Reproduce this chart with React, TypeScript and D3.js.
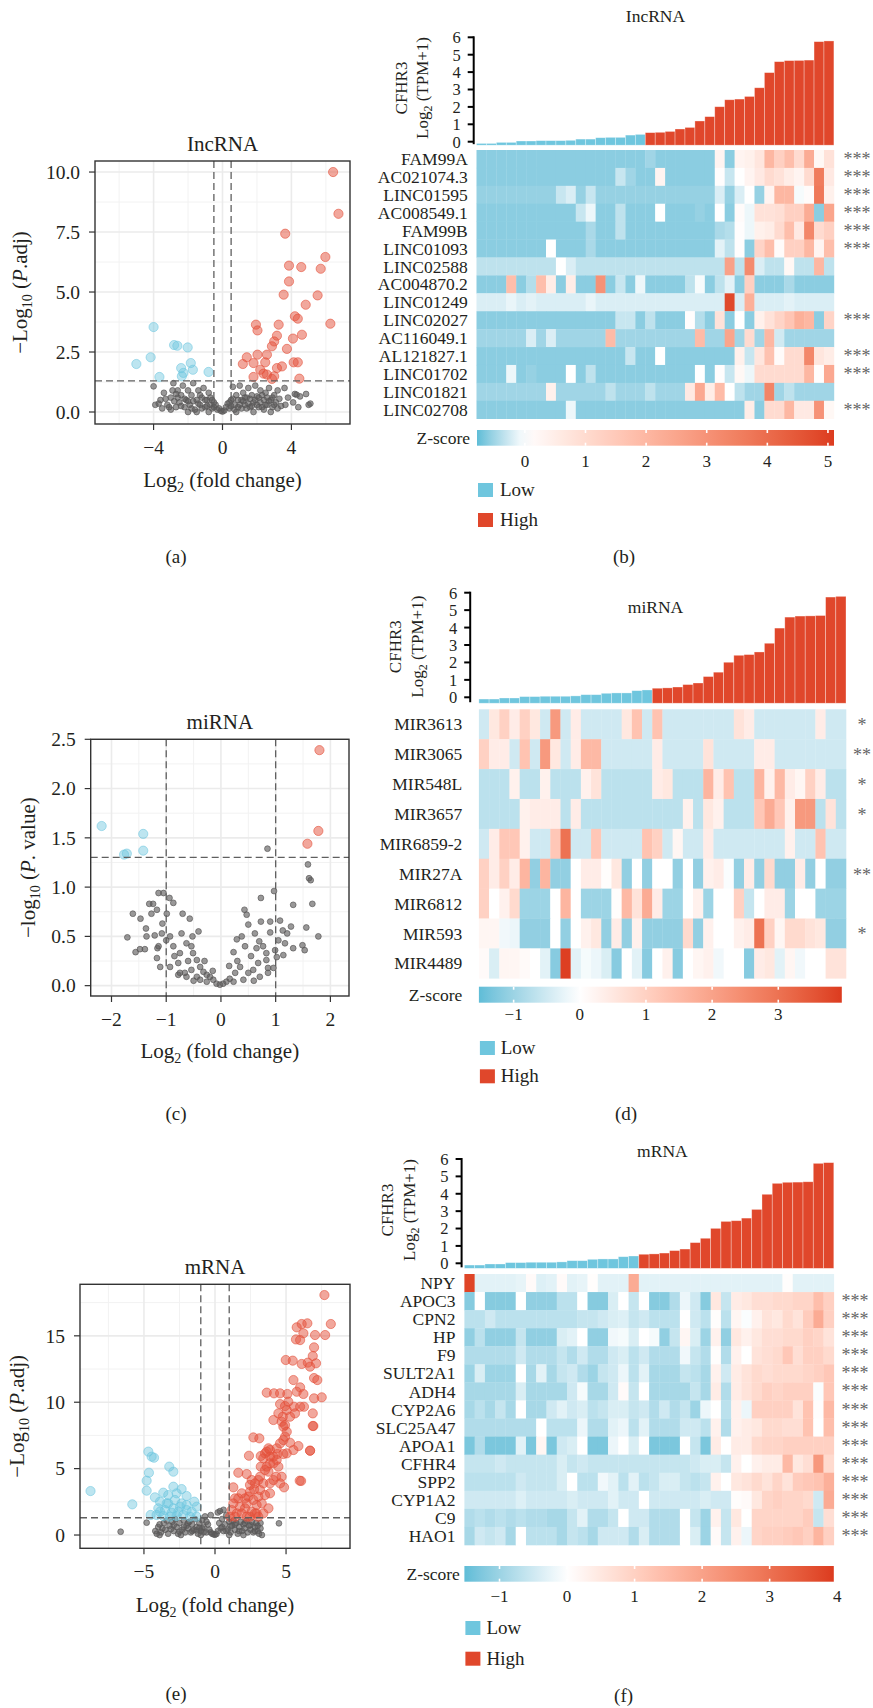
import React from 'react'
import * as d3 from 'd3'

const SERIF = '"Liberation Serif", "Times New Roman", Times, serif'
const INK = '#231f20'
const PT_BLUE = '#6cc5de'
const PT_RED = '#e4503a'
const PT_GREY = '#5a5858'
const BAR_BLUE = '#6fc6de'
const BAR_RED = '#e0472b'
const HEAT_BLUE = '#5fbdd7'
const HEAT_RED = '#dc3b1f'

// ---------------- volcano data: [log2 fold change, -log10 p] ----------------
const lncDown = [[-4.0, 3.54], [-5.0, 2.0], [-4.17, 2.28], [-3.66, 1.46], [-2.81, 2.79], [-2.62, 2.76], [-2.02, 2.69],
  [-2.4, 1.83], [-1.84, 2.04], [-1.72, 1.76], [-2.27, 1.63], [-0.81, 1.67], [-2.36, 1.49]]
const lncUp = [[3.64, 7.43], [3.86, 6.1], [4.57, 6.04], [3.86, 5.44], [3.55, 4.89], [4.83, 4.47], [5.7, 5.97], [5.52, 4.86],
  [4.2, 3.99], [4.37, 3.89], [3.26, 3.64], [1.94, 3.64], [2.03, 3.4], [4.61, 3.22], [4.09, 3.06], [3.16, 3.18], [3.0, 2.94],
  [2.87, 2.74], [3.74, 2.63], [2.58, 2.39], [2.03, 2.39], [1.41, 2.28], [1.18, 2.0], [1.8, 2.04], [2.48, 2.07], [2.19, 1.76],
  [3.16, 1.83], [3.45, 1.9], [4.13, 2.07], [4.37, 2.07], [2.58, 1.56], [2.38, 1.6], [3.0, 1.49], [1.8, 1.46], [4.46, 1.39],
  [2.87, 1.38], [6.42, 10.0], [6.73, 8.26], [5.97, 6.46], [6.26, 3.68]]
const lncNs = [[-4.0, 1.07], [-3.9, 0.3], [-3.7, 0.35], [-3.6, 0.5], [-3.4, 0.8], [-3.2, 0.3], [-3.0, 0.6], [-3.0, 0.1],
  [-2.9, 0.9], [-2.85, 1.2], [-2.7, 0.2], [-2.6, 0.9], [-2.5, 0.4], [-2.4, 0.7], [-2.3, 1.1], [-2.2, 0.2], [-2.1, 0.5],
  [-2.0, 0.9], [-2.0, 0.0], [-1.9, 0.3], [-1.8, 0.7], [-1.7, 1.2], [-1.6, 0.1], [-1.5, 0.5], [-1.5, 0.0], [-1.4, 0.9],
  [-1.3, 0.3], [-1.2, 0.6], [-1.1, 1.0], [-1.0, 0.2], [-0.9, 0.5], [-0.8, 0.8], [-0.8, 0.0], [-0.7, 0.3], [-0.6, 0.5],
  [-0.5, 0.2], [-0.4, 0.3], [-0.3, 0.1], [-0.2, 0.15], [-0.1, 0.05], [0, 0.02], [0.1, 0.06], [0.2, 0.2], [0.3, 0.35],
  [0.4, 0.15], [0.5, 0.5], [0.6, 1.05], [0.7, 0.3], [0.8, 0.7], [0.8, 0.0], [0.9, 0.2], [1.0, 1.1], [1.1, 0.5], [1.2, 0.8],
  [1.3, 0.3], [1.4, 0.6], [1.5, 1.0], [1.6, 0.2], [1.7, 0.7], [1.8, 0.4], [1.8, 0.0], [1.9, 1.1], [2.0, 0.3], [2.1, 0.6],
  [2.2, 0.9], [2.3, 0.2], [2.4, 0.5], [2.5, 0.8], [2.6, 0.3], [2.7, 1.0], [2.8, 0.5], [2.8, 0.0], [2.9, 0.2], [3.0, 0.7],
  [3.1, 0.4], [3.2, 0.9], [3.3, 0.55], [3.4, 0.25], [3.6, 1.0], [3.65, 0.3], [3.8, 0.6], [4.1, 0.4], [4.2, 0.75], [4.3, 0.72],
  [4.4, 0.2], [4.5, 0.65], [4.85, 0.75], [5.0, 0.3], [5.1, 0.35], [-2.8, 0.45], [-2.6, 0.6], [-2.4, 0.25], [-2.2, 0.55],
  [-2.0, 0.45], [-1.8, 0.15], [-1.7, 0.45], [-1.4, 0.35], [-1.3, 0.7], [-1.2, 0.15], [-1.0, 0.5], [-0.9, 0.25], [-0.7, 0.6],
  [-0.6, 0.15], [-0.5, 0.4], [0.4, 0.4], [0.5, 0.25], [0.6, 0.55], [0.7, 0.1], [0.9, 0.5], [1.0, 0.3], [1.1, 0.15],
  [1.2, 0.45], [1.3, 0.6], [1.4, 0.15], [1.5, 0.35], [1.6, 0.55], [1.7, 0.25], [1.9, 0.5], [2.0, 0.65], [2.1, 0.2],
  [2.2, 0.4], [2.3, 0.7], [2.4, 0.1], [2.5, 0.3], [2.6, 0.6], [2.7, 0.45], [2.9, 0.6], [3.0, 0.3], [3.2, 0.15], [-3.3, 0.55],
  [-3.1, 0.2], [-2.7, 0.75], [-3.5, 0.15]]

const mirDown = [[-2.18, 1.62], [-1.77, 1.33], [-1.72, 1.34], [-1.42, 1.54], [-1.42, 1.37]]
const mirUp = [[1.8, 2.39], [1.78, 1.57], [1.58, 1.44]]
const mirNs = [[0.85, 1.39], [1.59, 1.23], [1.61, 1.09], [1.64, 1.07], [0.97, 0.96], [0.73, 0.89], [1.32, 0.82], [1.67, 0.83],
  [0.43, 0.77], [0.47, 0.72], [0.5, 0.62], [0.73, 0.65], [0.9, 0.65], [1.08, 0.66], [1.13, 0.56], [1.28, 0.6], [1.56, 0.59],
  [1.21, 0.53], [1.17, 0.43], [1.05, 0.46], [0.9, 0.54], [0.62, 0.53], [0.38, 0.5], [0.29, 0.47], [0.23, 0.34], [0.44, 0.4],
  [0.65, 0.38], [0.77, 0.4], [0.83, 0.33], [0.99, 0.36], [1.02, 0.29], [1.14, 0.31], [1.32, 0.38], [1.49, 0.41], [1.53, 0.36],
  [1.78, 0.5], [0.83, 0.26], [0.86, 0.18], [0.96, 0.18], [0.68, 0.23], [0.59, 0.16], [0.5, 0.13], [0.35, 0.19], [0.26, 0.13],
  [0.16, 0.07], [0.1, 0.04], [0.04, 0.02], [-0.02, 0.01], [-0.08, 0.02], [-0.14, 0.06], [-0.2, 0.09], [-0.26, 0.11],
  [-0.32, 0.14], [-0.38, 0.19], [-0.44, 0.26], [-0.51, 0.33], [-0.54, 0.4], [-0.63, 0.43], [-0.72, 0.53], [-0.7, 0.73],
  [-0.57, 0.68], [-0.41, 0.55], [-0.52, 0.5], [-0.75, 0.33], [-0.87, 0.4], [-0.93, 0.5], [-0.87, 0.84], [-0.94, 0.89],
  [-1.05, 0.94], [-1.14, 0.94], [-0.99, 0.73], [-1.07, 0.63], [-1.08, 0.53], [-1.0, 0.46], [-1.14, 0.4], [-1.17, 0.28],
  [-1.11, 0.19], [-0.93, 0.19], [-0.78, 0.23], [-0.78, 0.11], [-0.66, 0.13], [-0.54, 0.16], [-0.44, 0.09], [-1.24, 0.83],
  [-1.31, 0.83], [-1.17, 0.77], [-1.27, 0.73], [-1.36, 0.5], [-1.61, 0.73], [-1.47, 0.68], [-1.37, 0.58], [-1.71, 0.49],
  [-1.56, 0.34], [-1.48, 0.37], [-1.39, 0.37], [-1.21, 0.51], [-1.16, 0.38], [0.86, 0.13], [0.71, 0.09], [0.41, 0.06],
  [0.23, 0.04], [-0.26, 0.04], [-0.38, 0.06], [-0.63, 0.09], [-0.75, 0.13], [-0.6, 0.25], [-0.3, 0.25], [0.3, 0.25],
  [0.55, 0.3], [0.7, 0.45], [-0.85, 0.3], [0.15, 0.2], [-0.15, 0.15], [0.6, 0.05], [-0.5, 0.05]]

const mrnaDown = [[-8.76, 3.31], [-5.82, 2.31], [-4.69, 6.28], [-4.46, 5.9], [-4.29, 5.82], [-4.65, 4.69], [-4.81, 4.09],
  [-4.81, 3.34], [-4.23, 2.84], [-4.53, 1.51], [-3.22, 5.15], [-2.93, 4.77], [-2.93, 3.64], [-2.35, 3.46], [-3.64, 3.19],
  [-3.29, 3.01], [-2.7, 3.14], [-3.87, 2.51], [-3.4, 2.38], [-2.0, 2.94], [-1.46, 2.51], [-1.29, 2.13], [-3.99, 2.01],
  [-3.52, 1.88], [-2.93, 2.01], [-2.46, 2.13], [-2.0, 1.88], [-1.64, 1.76], [-4.11, 1.51], [-3.64, 1.43], [-3.17, 1.38],
  [-2.7, 1.43], [-2.23, 1.51], [-1.76, 1.38], [-1.29, 1.38], [-3.29, 2.38], [-2.82, 2.64], [-2.35, 2.38], [-2.0, 2.26],
  [-3.87, 1.76], [-2.58, 1.76], [-3.05, 1.68]]
const mrnaUp = [[7.7, 18.07], [8.15, 15.89], [7.75, 15.06], [5.75, 15.64], [6.1, 15.89], [6.5, 15.94], [6.22, 15.19],
  [5.7, 14.73], [5.99, 14.68], [7.04, 15.06], [6.97, 14.13], [6.88, 13.48], [7.11, 12.93], [6.53, 12.98], [6.69, 12.68],
  [4.98, 13.18], [5.47, 13.13], [6.1, 12.88], [6.97, 11.82], [7.2, 11.67], [5.52, 11.67], [5.99, 11.12], [3.64, 10.72],
  [4.15, 10.67], [4.58, 10.67], [5.09, 10.62], [5.75, 10.79], [6.22, 10.62], [6.97, 10.29], [7.51, 10.37], [4.58, 9.86],
  [4.93, 9.71], [5.56, 9.66], [5.99, 9.66], [6.26, 9.66], [4.46, 9.16], [5.63, 9.16], [6.88, 9.16], [4.11, 8.66], [4.69, 8.53],
  [4.93, 8.28], [4.81, 8.16], [6.92, 8.21], [4.93, 7.4], [2.7, 7.35], [3.12, 7.28], [3.76, 6.53], [3.64, 6.28], [4.58, 6.9],
  [5.28, 6.95], [5.87, 6.7], [6.69, 6.35], [2.39, 5.97], [3.22, 5.95], [3.4, 5.77], [3.87, 5.9], [4.39, 6.1], [4.81, 6.1],
  [3.22, 5.15], [3.64, 5.15], [4.11, 5.4], [4.46, 5.15], [3.76, 4.77], [3.87, 3.89], [4.3, 4.39], [4.69, 4.39], [4.86, 3.59],
  [5.96, 4.09], [1.64, 4.69], [2.23, 4.59], [2.58, 4.14], [3.05, 4.14], [2.46, 3.77], [2.75, 3.44], [3.17, 3.39], [3.52, 3.01],
  [3.87, 3.14], [1.29, 3.59], [2.11, 2.76], [1.41, 2.76], [1.76, 2.13], [2.23, 2.38], [2.93, 2.26], [3.76, 2.01], [1.17, 1.88],
  [1.53, 1.63], [2.58, 1.76], [2.93, 1.63], [1.06, 1.38], [1.41, 1.38], [2.46, 1.38], [3.05, 1.38], [1.88, 3.14], [2.35, 2.89],
  [2.7, 2.64], [3.29, 2.38], [2.11, 2.01], [2.46, 3.26], [2.82, 3.89], [3.17, 4.39], [3.52, 4.89], [3.87, 5.4], [4.11, 5.9],
  [3.52, 6.15], [3.87, 6.4], [4.34, 6.53], [4.81, 7.15], [5.05, 7.78], [4.77, 8.91], [5.28, 8.91], [5.05, 9.41], [5.16, 10.04],
  [1.64, 2.76], [1.29, 2.38], [1.88, 1.63], [2.82, 1.63], [2.23, 1.38], [3.4, 1.63], [3.05, 2.89], [3.4, 3.89], [4.11, 4.14],
  [4.58, 3.89], [4.34, 5.65], [5.05, 6.15], [5.52, 6.4], [6.06, 4.07], [6.69, 6.35], [6.88, 8.21]]
const mrnaNs = [[-6.64, 0.25], [-4.81, 0.93], [4.5, 0.88], [-4.2, 0.3], [-4.0, 0.6], [-3.9, 0.0], [-3.8, 0.2], [-3.6, 0.9],
  [-3.5, 0.4], [-3.4, 1.1], [-3.3, 0.1], [-3.2, 0.7], [-3.0, 1.0], [-2.9, 0.3], [-2.8, 1.2], [-2.7, 0.6], [-2.6, 0.1],
  [-2.5, 0.9], [-2.4, 0.0], [-2.3, 0.4], [-2.2, 1.1], [-2.1, 0.2], [-2.0, 0.7], [-1.9, 0.5], [-1.8, 1.0], [-1.7, 0.2],
  [-1.6, 0.8], [-1.5, 0.4], [-1.4, 1.2], [-1.3, 0.6], [-1.2, 0.1], [-1.1, 0.9], [-1.0, 0.3], [-1.0, 0.0], [-0.9, 1.1],
  [-0.9, 0.5], [-0.8, 0.6], [-0.7, 1.4], [-0.6, 0.2], [-0.6, 1.0], [-0.5, 0.8], [-0.4, 0.4], [-0.3, 0.2], [-0.3, 1.5],
  [-0.2, 0.1], [-0.1, 0.05], [0, 0.02], [0.1, 0.08], [0.2, 0.3], [0.2, 1.7], [0.3, 0.9], [0.35, 1.8], [0.4, 0.5], [0.5, 1.2],
  [0.6, 1.9], [0.6, 0.3], [0.7, 0.8], [0.8, 1.5], [0.9, 0.4], [1.0, 1.0], [1.0, 0.0], [1.1, 0.2], [1.2, 0.7], [1.3, 1.1],
  [1.4, 0.4], [1.5, 0.9], [1.6, 0.1], [1.7, 0.6], [1.8, 1.0], [1.9, 0.3], [2.0, 0.8], [2.0, 0.0], [2.1, 0.5], [2.2, 1.1],
  [2.3, 0.2], [2.4, 0.7], [2.5, 0.4], [2.6, 1.0], [2.7, 0.2], [2.8, 0.6], [2.9, 0.9], [3.0, 0.3], [3.0, 0.7], [3.1, 0.1],
  [3.2, 0.5], [3.3, 0.0], [-3.7, 0.5], [-3.1, 0.45], [-2.9, 0.75], [-2.5, 0.25], [-2.2, 0.6], [-1.9, 0.9], [-1.6, 0.3],
  [-1.3, 0.35], [-1.1, 0.55], [-0.8, 0.2], [0.5, 0.6], [0.8, 0.3], [1.1, 0.7], [1.4, 0.8], [1.7, 0.3], [2.1, 0.9], [2.5, 0.75],
  [2.8, 0.3], [3.2, 0.9], [-4.1, 0.1], [-3.9, 0.8]]

// ---------------- CFHR3 expression, log2(TPM+1), 36 samples sorted ----------------
const cfhr3Expr = [-0.1, -0.1, -0.04, -0.04, 0.04, 0.04, 0.06, 0.06, 0.06, 0.08, 0.15, 0.15, 0.23, 0.25, 0.25, 0.38, 0.42,
  0.52, 0.54, 0.59, 0.73, 0.82, 1.19, 1.44, 2.01, 2.41, 2.45, 2.6, 3.1, 3.97, 4.6, 4.66, 4.67, 4.69, 5.75, 5.79]
const cfhr3Group = ['Low', 'Low', 'Low', 'Low', 'Low', 'Low', 'Low', 'Low', 'Low', 'Low', 'Low', 'Low', 'Low', 'Low', 'Low',
  'Low', 'Low', 'High', 'High', 'High', 'High', 'High', 'High', 'High', 'High', 'High', 'High', 'High', 'High', 'High',
  'High', 'High', 'High', 'High', 'High', 'High']

// ---------------- heatmap z-scores ----------------
const lncGenes = ['FAM99A', 'AC021074.3', 'LINC01595', 'AC008549.1', 'FAM99B', 'LINC01093', 'LINC02588', 'AC004870.2',
  'LINC01249', 'LINC02027', 'AC116049.1', 'AL121827.1', 'LINC01702', 'LINC01821', 'LINC02708']
const lncStars = ['***', '***', '***', '***', '***', '***', '', '', '', '***', '', '***', '***', '', '***']
const lncZ = [
  [-0.6, -0.6, -0.6, -0.6, -0.6, -0.6, -0.6, -0.6, -0.6, -0.6, -0.6, -0.6,
    -0.6, -0.6, -0.6, -0.6, -0.6, -0.5, -0.6, -0.6, -0.6, -0.6, -0.6, -0.6,
    0.3, -0.6, 0.3, 0.4, 0.7, 2.0, 1.3, 1.8, 1.0, 2.3, 0.2, 0.8],
  [-0.6, -0.6, -0.6, -0.6, -0.6, -0.6, -0.6, -0.6, -0.6, -0.6, -0.6, -0.6,
    -0.6, -0.6, -0.3, -0.5, -0.6, -0.6, 0.3, -0.6, -0.6, -0.6, -0.6, -0.6,
    0.05, -0.3, 0, 0.3, 0.6, 1.0, 0.8, 0.5, 0.3, 1.0, 3.6, 0.6],
  [-0.55, -0.55, -0.55, -0.55, -0.55, -0.55, -0.55, -0.55, -0.3, -0.2, -0.55, -0.3,
    -0.55, -0.55, -0.55, -0.55, -0.55, -0.55, -0.55, -0.55, -0.55, -0.55, -0.55, -0.55,
    -0.2, -0.55, -0.2, 0, -0.55, 0.3, 2.0, 2.0, -0.05, 0.1, 3.7, 0.4],
  [-0.6, -0.6, -0.6, -0.6, -0.6, -0.6, -0.6, -0.6, -0.6, -0.6, -0.3, -0.1,
    -0.6, -0.6, -0.35, -0.6, -0.6, -0.6, 0, -0.6, -0.6, -0.6, -0.55, -0.6,
    0, -0.6, 0.1, -0.1, 0.8, 0.8, 0.9, 1.3, 1.3, 2.3, -0.6, 2.5],
  [-0.6, -0.6, -0.6, -0.6, -0.6, -0.6, -0.6, -0.6, -0.6, -0.6, -0.6, -0.45,
    -0.6, -0.6, -0.35, -0.6, -0.6, -0.6, -0.6, -0.6, -0.6, -0.6, -0.6, -0.6,
    -0.45, -0.4, 0.05, -0.1, 0.4, 0.5, 1.0, 1.8, 0.6, 3.3, 1.0, 1.3],
  [-0.6, -0.6, -0.6, -0.6, -0.6, -0.6, -0.6, 0, -0.6, -0.6, -0.6, -0.45,
    -0.6, -0.6, -0.6, -0.6, -0.6, -0.6, -0.6, -0.6, -0.6, -0.6, -0.6, -0.6,
    -0.15, -0.35, 0.05, -0.6, 1.2, 1.8, 0.1, 1.3, 1.3, 2.0, 0.3, 1.8],
  [-0.35, -0.35, -0.35, -0.35, -0.35, -0.35, -0.35, -0.35, 0, -0.2, -0.35, -0.35,
    -0.35, -0.35, -0.35, -0.35, -0.35, -0.35, -0.35, -0.35, -0.35, -0.35, -0.35, -0.35,
    -0.35, 2.6, -0.35, 3.2, -0.2, -0.35, -0.35, 0.2, -0.35, -0.35, 2.0, -0.35],
  [-0.6, -0.6, -0.6, 1.8, -0.6, -0.4, 1.8, 0.5, -0.6, 0.5, -0.6, -0.6,
    3.0, -0.6, -0.3, -0.6, -0.1, -0.6, -0.6, -0.6, -0.6, -0.35, -0.05, -0.6,
    -0.35, -0.15, -0.6, 1.3, -0.6, -0.6, -0.6, -0.45, -0.6, -0.6, -0.6, -0.6],
  [-0.2, -0.2, -0.2, -0.12, -0.2, -0.15, -0.2, -0.2, -0.2, -0.2, -0.2, -0.12,
    -0.2, -0.2, -0.2, -0.2, -0.2, -0.2, -0.2, -0.2, -0.2, -0.2, -0.2, -0.2,
    -0.2, 4.8, -0.2, 2.2, -0.2, -0.2, -0.2, -0.15, -0.2, -0.2, -0.2, -0.2],
  [-0.6, -0.6, -0.6, -0.6, -0.6, -0.6, -0.6, -0.6, -0.6, -0.6, -0.6, -0.6,
    -0.6, -0.6, -0.3, -0.3, -0.6, -0.35, -0.6, -0.6, -0.6, 0.05, -0.4, -0.6,
    0.8, -0.6, 0, -0.6, 0.4, 0.8, 1.2, 1.6, 2.2, 2.0, -0.6, 1.2],
  [-0.5, -0.5, -0.5, -0.5, -0.5, -0.2, -0.5, -0.2, -0.5, -0.5, -0.5, -0.5,
    -0.5, 1.9, -0.5, -0.5, -0.5, -0.5, -0.5, -0.5, -0.5, -0.5, 1.9, -0.5,
    -0.5, 2.5, -0.5, 1.0, -0.5, 2.0, -0.25, -0.5, -0.5, -0.5, -0.5, -0.5],
  [-0.6, -0.6, -0.6, -0.6, -0.6, -0.6, -0.6, -0.6, -0.6, -0.6, -0.6, -0.6,
    -0.6, -0.6, -0.6, -0.3, -0.6, -0.6, 0, -0.6, -0.6, -0.6, -0.6, -0.6,
    -0.6, -0.6, 0.4, -0.3, 0.7, 1.7, 0.1, 1.0, 1.0, 3.3, 0.7, 0.5],
  [-0.6, -0.6, -0.6, -0.1, -0.6, -0.55, -0.6, -0.6, -0.6, 0, -0.6, -0.35,
    -0.6, -0.6, -0.6, -0.6, -0.6, -0.6, -0.6, -0.6, -0.6, -0.6, 0, -0.6,
    0.05, -0.3, 0.2, -0.1, 1.0, 1.0, 1.0, 1.0, 1.0, 2.0, 0.05, 2.4],
  [-0.5, -0.5, -0.5, -0.5, -0.5, -0.5, -0.5, 0.4, -0.5, -0.5, -0.5, -0.5,
    -0.5, -0.35, -0.5, -0.5, -0.5, -0.35, -0.5, -0.5, -0.5, 0.6, 2.4, 0.5,
    1.9, 0, -0.35, -0.5, -0.5, 3.4, -0.5, -0.35, -0.5, -0.5, -0.5, -0.5],
  [-0.6, -0.6, -0.6, -0.6, -0.6, -0.6, -0.6, -0.6, -0.6, -0.1, -0.6, -0.6,
    -0.6, -0.6, -0.6, -0.6, -0.6, -0.6, -0.6, -0.6, -0.6, -0.6, -0.6, -0.6,
    -0.6, -0.6, -0.6, 0.5, -0.6, 1.0, 1.0, 2.0, 0.6, 0.6, 3.0, 0.2],
]

const mirGenes = ['MIR3613', 'MIR3065', 'MIR548L', 'MIR3657', 'MIR6859-2', 'MIR27A', 'MIR6812', 'MIR593', 'MIR4489']
const mirStars = ['*', '**', '*', '*', '', '**', '', '*', '']
const mirZ = [
  [-0.5, 0.5, 1.0, 0.4, 1.0, 0.5, -0.5, 2.2, -0.5, 0.4, -0.5, -0.5,
    -0.5, -0.5, 0.5, 1.3, -0.5, 1.3, -0.5, -0.5, -0.5, -0.5, -0.5, -0.5,
    -0.5, 0.6, 0.4, -0.5, -0.5, -0.5, -0.5, -0.5, -0.5, 0.4, -0.5, -0.5],
  [1.0, 0.4, 0.4, -0.5, 1.3, -0.5, 2.2, 0.5, -0.5, 0.4, 1.5, 1.5,
    -0.5, -0.5, -0.5, -0.5, -0.5, 0.4, -0.5, -0.5, -0.5, -0.5, 0.6, -0.5,
    -0.5, -0.5, -0.5, 0.4, 0.4, -0.5, -0.5, -0.5, -0.5, -0.5, -0.5, -0.5],
  [-0.7, -0.7, -0.7, 0.3, -0.7, -0.7, 0.3, -0.7, -0.7, -0.7, 0.3, 0.6,
    -0.7, -0.7, -0.7, -0.7, -0.7, 0.4, 0.5, -0.7, -0.7, -0.7, 1.6, 0.4,
    1.3, -0.7, -0.7, 1.6, 0.3, 1.5, 0.4, 0.2, 1.0, 0.4, -0.7, -0.7],
  [-0.7, -0.7, -0.7, -0.7, 0.3, 0.4, 0.4, 0.4, -0.7, 0.4, -0.7, -0.7,
    -0.7, -0.7, -0.7, -0.7, -0.7, -0.7, -0.7, -0.7, 0.3, -0.7, 0.5, 0.3,
    -0.7, -0.7, -0.7, 1.2, 1.8, 1.2, 0.3, 2.2, 2.2, -0.7, 0.6, -0.7],
  [-0.5, 0.4, 1.2, 1.2, 0.3, -0.5, -0.5, 1.2, 3.0, -0.5, -0.5, 1.2,
    -0.5, -0.5, -0.5, -0.5, 1.3, 1.0, -0.5, 0.2, -0.5, -0.5, 0.4, -0.5,
    -0.5, -0.5, -0.5, -0.5, -0.5, -0.5, 0.3, -0.5, -0.5, 1.3, -0.5, -0.5],
  [1.0, 0.4, 1.0, 0.4, 1.6, -1.1, 1.6, -1.1, -1.1, 0, 0.4, 0.4,
    0.05, 0.5, -1.1, 0, -1.1, 0, 0, -1.1, 0, -1.1, 0.3, 0.4,
    -0.05, -1.1, 0.4, -1.1, 0.8, -1.1, -1.1, 0.4, -1.1, 0, -1.1, -1.1],
  [1.0, 0, 0.3, 0.8, -1.0, -1.0, -1.0, 0, 1.6, 0, -1.0, -1.0,
    -1.0, 0.05, 1.5, 0.6, 1.8, 0.4, -1.0, -1.0, 0, 0.3, -1.0, 0,
    0, 1.0, -0.6, 0, 0.4, 0.4, -1.0, 0, 0, -1.0, -1.0, -1.0],
  [0.2, 0.2, -0.15, -0.2, -1.1, -1.1, -1.1, 0, -1.1, 0, 0.3, 0.5,
    -1.1, 0.4, -1.1, 0.3, -1.1, -1.1, -1.1, -1.1, 0.8, -1.1, 0.3, 0,
    0, 0.3, 0.4, 3.0, 1.0, 0.2, 0.8, 0.8, 0.6, 0.5, -1.1, -1.1],
  [0.1, -0.4, 0.2, 0.2, 0.1, 0, -0.3, -1.2, 3.9, -0.3, -0.1, -0.2,
    -0.4, -1.2, 0, -0.3, -1.2, 0, 0.3, -1.2, 0, 0.2, 0.3, -0.15,
    0, 0, -1.2, 0.4, 0.5, -0.3, 0.2, -0.15, 0, 0, 0.6, 0.6],
]

const mrnaGenes = ['NPY', 'APOC3', 'CPN2', 'HP', 'F9', 'SULT2A1', 'ADH4', 'CYP2A6', 'SLC25A47', 'APOA1', 'CFHR4', 'SPP2',
  'CYP1A2', 'C9', 'HAO1']
const mrnaStars = ['', '***', '***', '***', '***', '***', '***', '***', '***', '***', '***', '***', '***', '***', '***']
const mrnaZ = [
  [3.8, -0.3, -0.3, -0.3, -0.3, -0.25, 0.1, -0.35, -0.3, 0.1, -0.3, -0.25,
    0.05, -0.3, -0.3, -0.3, 1.8, -0.3, -0.3, -0.3, -0.3, -0.3, -0.3, -0.3,
    -0.3, -0.3, -0.3, -0.3, -0.3, -0.3, -0.3, 0.05, -0.3, -0.3, -0.3, -0.3],
  [-1.2, 0, -1.2, -1.2, -1.2, 0, -1.1, -1.1, -1.1, -0.7, -0.7, 0,
    -1.2, -1.2, -0.4, 0, -0.6, 0, -1.2, -1.2, -0.8, -0.2, -0.5, -1.2,
    0.5, -0.6, 0.4, 0.5, 0.7, 0.7, 0.8, 0.8, 0.9, 0.9, 1.4, 1.0],
  [-0.7, -0.7, -0.5, -0.7, -0.7, -0.7, -0.7, -0.7, -0.7, -0.7, -0.7, -0.6,
    -0.6, -0.5, -0.4, -0.35, -0.6, -0.5, -0.7, -0.7, -0.7, 0, -0.5, -0.7,
    0.05, -0.7, 0.2, -0.05, 0.3, 0.6, 0.5, 0.8, 0.6, 1.1, 1.8, 1.0],
  [-1.1, -0.7, -1.1, -1.1, -1.1, -0.6, -1.1, -1.1, -1.1, -0.4, -0.3, 0,
    -1.1, -1.1, -0.15, -0.1, -0.4, 0, -0.1, -1.1, -0.6, 0.2, -0.4, -1.0,
    0.3, -1.1, 0.5, 0.3, 0.5, 0.7, 0.7, 0.8, 0.8, 1.0, 0.9, 0.6],
  [-0.8, -0.8, -0.8, -0.8, -0.8, -0.5, -0.8, -0.8, -0.8, -0.6, -0.8, -0.5,
    -0.8, -0.8, -0.5, -0.4, -0.7, -0.5, -0.8, -0.8, -0.8, -0.15, -0.6, -0.8,
    0.05, -0.8, 0.3, 0, 0.6, 0.7, 0.8, 1.2, 0.7, 1.0, 1.0, 0.8],
  [-1.0, -0.4, -1.0, -1.0, -1.0, 0, -0.9, -0.3, -0.9, -0.6, -0.5, -0.8,
    -1.0, -0.6, -0.5, -0.2, -0.7, -0.3, -0.9, -0.9, -0.9, -0.6, -0.7, -0.9,
    0.3, -0.5, 0.4, 0.6, 0.8, 0.7, 0.8, 0.8, 0.8, 0.9, 1.0, 1.2],
  [-0.9, -0.9, -0.9, -0.9, -0.9, -0.4, -0.9, -0.9, -0.9, -0.9, -0.5, -0.1,
    -0.9, -0.9, -0.5, 0.1, -0.6, 0, -0.9, -0.9, -0.9, -0.9, -0.6, -0.9,
    0.4, -0.8, 0.4, 0.6, 0.8, 1.0, 0.9, 1.0, 1.0, 1.0, -0.05, 1.2],
  [-0.9, -0.7, -0.9, -0.6, -0.9, 0, -0.9, -0.9, -0.5, -0.3, -0.5, -0.4,
    -0.7, -0.6, -0.4, -0.4, -0.6, -0.5, -0.8, -0.5, -0.8, -0.6, -1.0, -0.2,
    0, -0.7, 0.3, -0.2, 1.0, 1.0, 1.0, 1.0, 0.6, 1.3, 0.05, 1.5],
  [-0.8, -0.8, -0.8, -0.8, -0.8, -0.8, -0.8, 0, -0.7, -0.7, -0.7, -0.2,
    -0.8, -0.8, -0.3, -0.2, -0.7, -0.3, -0.8, -0.8, -0.8, -0.5, -0.5, -0.7,
    0.3, -0.8, 0.3, 0.4, 0.5, 0.8, 0.8, 0.7, 0.7, 1.3, 0, 1.4],
  [-1.3, -0.8, -1.3, -1.3, -1.3, -0.3, -1.3, 0.2, -1.3, -0.5, -0.4, 0,
    -1.3, -1.3, -0.2, 0, -0.4, 0, -1.3, -1.3, -1.3, 0, -0.6, -1.3,
    0.4, 0, 0.4, 0.4, 0.8, 0.9, 0.9, 1.0, 1.0, 1.0, 1.0, 1.0],
  [-0.6, -0.6, -0.6, -0.5, -0.6, -0.6, -0.6, -0.6, -0.6, -0.4, -0.6, -0.5,
    -0.6, -0.6, -0.6, -0.6, -0.6, -0.6, -0.6, -0.6, -0.6, -0.6, -0.5, -0.4,
    -0.4, -0.6, 0.3, 0, 0.3, 0.4, 0.4, 1.5, 0.5, 0.7, 2.2, 0.8],
  [-0.7, -0.7, -0.7, -0.7, -0.7, -0.5, -0.6, -0.6, -0.6, -0.4, 0, -0.7,
    -0.7, -0.15, -0.3, -0.7, -0.3, -0.7, -0.6, -0.4, -0.4, -0.6, -0.7, -0.6,
    0.3, 0, 0.5, 0.6, 0.8, 0.6, 0.9, 0.6, 1.1, 1.2, 1.3, 1.7],
  [-0.5, -0.5, -0.5, -0.5, -0.5, -0.35, -0.5, -0.5, -0.5, -0.5, -0.4, -0.5,
    -0.5, -0.5, -0.3, -0.5, -0.5, 0, -0.5, -0.5, -0.5, -0.5, -0.5, -0.4,
    -0.5, -0.5, 0.05, 0.1, 0.5, 0.9, 1.0, 0.9, 0.9, 0.8, -0.5, 1.8],
  [-0.8, -0.7, -0.8, -0.7, -0.8, -0.7, -0.8, -0.8, -0.9, -0.9, -0.6, -0.3,
    -0.8, -0.8, -0.6, 0, -0.5, -0.5, -0.8, -0.8, -0.8, 0, -0.6, -1.0,
    0.3, -0.6, 0.5, 0, 0.9, 0.9, 0.9, 0.9, 0.9, 1.1, -0.6, 0.7],
  [-0.9, -0.5, -0.6, -0.5, -0.9, 0, -0.7, -0.7, -0.7, -0.9, -0.6, -0.7,
    -0.9, -0.5, -0.5, -0.5, -0.8, -0.4, -0.8, -0.8, -0.8, 0, -0.4, -1.0,
    0.1, -0.6, 0.3, -0.2, 0.9, 1.0, 1.0, 1.1, 1.2, 1.0, 1.6, 1.0],
]

// ---------------- volcano panel ----------------
function Volcano({ c }: any) {
  const x = d3.scaleLinear().domain(c.xDomain).range([c.left, c.right])
  const y = d3.scaleLinear().domain(c.yDomain).range([c.bottom, c.top])
  const midX = (c.left + c.right) / 2
  const midY = (c.top + c.bottom) / 2
  const xFmt = d3.format(c.xFmt)
  const yFmt = d3.format(c.yFmt)
  const dot = (d: number[], i: number, col: string, r: number, op: number, k: string) => (
    <circle key={k + i} cx={x(d[0])} cy={y(d[1])} r={r} fill={col} fillOpacity={op}
      stroke={col} strokeOpacity={Math.min(1, op + 0.25)} strokeWidth={0.8} />
  )
  return (
    <g fontFamily={SERIF} fill={INK}>
      <defs>
        <clipPath id={c.id + '-clip'}>
          <rect x={c.left} y={c.top} width={c.right - c.left} height={c.bottom - c.top} />
        </clipPath>
      </defs>
      <rect x={c.left} y={c.top} width={c.right - c.left} height={c.bottom - c.top} fill="#fff" />
      {c.xMinor.map((v: number) => <line key={'xm' + v} x1={x(v)} x2={x(v)} y1={c.top} y2={c.bottom} stroke="#f2f2f2" strokeWidth={1} />)}
      {c.yMinor.map((v: number) => <line key={'ym' + v} y1={y(v)} y2={y(v)} x1={c.left} x2={c.right} stroke="#f2f2f2" strokeWidth={1} />)}
      {c.xTicks.map((v: number) => <line key={'xg' + v} x1={x(v)} x2={x(v)} y1={c.top} y2={c.bottom} stroke="#ebebeb" strokeWidth={1.6} />)}
      {c.yTicks.map((v: number) => <line key={'yg' + v} y1={y(v)} y2={y(v)} x1={c.left} x2={c.right} stroke="#ebebeb" strokeWidth={1.6} />)}
      <g clipPath={`url(#${c.id}-clip)`}>
        {c.ns.map((d: number[], i: number) => dot(d, i, PT_GREY, 2.9, 0.62, 'n'))}
        {c.down.map((d: number[], i: number) => dot(d, i, PT_BLUE, 4.6, 0.45, 'd'))}
        {c.up.map((d: number[], i: number) => dot(d, i, PT_RED, 4.6, 0.5, 'u'))}
      </g>
      {c.vlines.map((v: number) => <line key={'vl' + v} x1={x(v)} x2={x(v)} y1={c.top} y2={c.bottom} stroke="#5f5f5f" strokeWidth={1.3} strokeDasharray="7,4" />)}
      <line x1={c.left} x2={c.right} y1={y(c.hline)} y2={y(c.hline)} stroke="#5f5f5f" strokeWidth={1.3} strokeDasharray="7,4" />
      <rect x={c.left} y={c.top} width={c.right - c.left} height={c.bottom - c.top} fill="none" stroke="#333" strokeWidth={1.4} />
      {c.xTicks.map((v: number) => (
        <g key={'xt' + v}>
          <line x1={x(v)} x2={x(v)} y1={c.bottom} y2={c.bottom + 6} stroke="#333" strokeWidth={1.2} />
          <text x={x(v)} y={c.bottom + 30} textAnchor="middle" fontSize={19.5}>{xFmt(v)}</text>
        </g>
      ))}
      {c.yTicks.map((v: number) => (
        <g key={'yt' + v}>
          <line x1={c.left - 6} x2={c.left} y1={y(v)} y2={y(v)} stroke="#333" strokeWidth={1.2} />
          <text x={c.left - 15} y={y(v)} dy="0.35em" textAnchor="end" fontSize={19.5}>{yFmt(v)}</text>
        </g>
      ))}
      <text x={midX} y={c.top - 10} textAnchor="middle" fontSize={21}>{c.title}</text>
      <text x={midX} y={c.xTitleY} textAnchor="middle" fontSize={21}>
        Log<tspan fontSize={14} dy={5}>2</tspan><tspan dy={-5}> (fold change)</tspan>
      </text>
      <text transform={`translate(${c.yTitleX},${midY}) rotate(-90)`} textAnchor="middle" dy="0.35em" fontSize={21}>
        {c.yPrefix}<tspan fontSize={14} dy={5}>10</tspan><tspan dy={-5}> (</tspan><tspan fontStyle="italic">P</tspan>{c.ySuffix}
      </text>
      <text x={c.panelX} y={c.panelY} textAnchor="middle" fontSize={19}>{c.panel}</text>
    </g>
  )
}

// ---------------- CFHR3 bar + heatmap panel ----------------
function ExprHeatmap({ c }: any) {
  const idx = d3.range(cfhr3Expr.length)
  const x = d3.scaleBand<number>().domain(idx).range([c.x0, c.x1])
  const yb = d3.scaleLinear().domain([0, 6]).range([c.zeroY, c.sixY])
  const yr = d3.scaleBand<string>().domain(c.genes).range([c.heatTop, c.heatBottom])
  const col = d3.scaleLinear<string>().domain([c.zMin, 0, c.zMax]).range([HEAT_BLUE, '#ffffff', HEAT_RED])
    .interpolate(d3.interpolateLab).clamp(true)
  const xz = d3.scaleLinear().domain([c.zMin, c.zMax]).range([c.cbX0, c.cbX1])
  const gid = c.id + '-grad'
  const stops = d3.range(0, 1.0001, 0.04)
  return (
    <g fontFamily={SERIF} fill={INK}>
      <defs>
        <linearGradient id={gid} x1="0" x2="1" y1="0" y2="0">
          {stops.map((t) => <stop key={t} offset={t} stopColor={col(c.zMin + t * (c.zMax - c.zMin))} />)}
        </linearGradient>
      </defs>
      <text x={c.titleX} y={c.titleY} textAnchor="middle" fontSize={17.5}>{c.title}</text>
      {cfhr3Expr.map((v, i) => (
        <rect key={'b' + i} x={x(i)} width={x.bandwidth()} y={yb(v)} height={yb(c.barBase) - yb(v)}
          fill={cfhr3Group[i] === 'Low' ? BAR_BLUE : BAR_RED} stroke="#fff" strokeOpacity={0.45} strokeWidth={0.7} />
      ))}
      <line x1={c.axisX} x2={c.axisX} y1={yb(6) - 1} y2={yb(c.barBase) - 1} stroke="#000" strokeWidth={2} />
      {d3.range(0, 7).map((v) => (
        <g key={'at' + v}>
          <line x1={c.axisX - 6} x2={c.axisX} y1={yb(v)} y2={yb(v)} stroke="#000" strokeWidth={2} />
          <text x={c.axisX - 13} y={yb(v)} dy="0.36em" textAnchor="end" fontSize={16.5}>{v}</text>
        </g>
      ))}
      <text transform={`translate(${c.lab1X},${c.labY}) rotate(-90)`} textAnchor="middle" dy="0.35em" fontSize={17}>CFHR3</text>
      <text transform={`translate(${c.lab2X},${c.labY}) rotate(-90)`} textAnchor="middle" dy="0.35em" fontSize={17}>
        Log<tspan fontSize={12} dy={4}>2</tspan><tspan dy={-4}> (TPM+1)</tspan>
      </text>
      {c.z.map((row: number[], r: number) => row.map((v, i) => (
        <rect key={'h' + r + '-' + i} x={x(i)} y={yr(c.genes[r])} width={x.bandwidth() + 0.3}
          height={yr.bandwidth() + 0.3} fill={col(v)} />
      )))}
      {c.genes.map((g: string) => (
        <text key={'g' + g} x={c.labelRight} y={(yr(g) as number) + yr.bandwidth() / 2} dy="0.35em" textAnchor="end" fontSize={17.5}>{g}</text>
      ))}
      {c.stars.map((s: string, r: number) => s ? (
        <text key={'s' + r} x={c.starX} y={(yr(c.genes[r]) as number) + yr.bandwidth() / 2 + c.starDy}
          textAnchor="middle" fontSize={18} fill="#666">{s}</text>
      ) : null)}
      <rect x={c.cbX0} y={c.cbTop} width={c.cbX1 - c.cbX0} height={c.cbH} fill={`url(#${gid})`} />
      {c.zTicks.map((t: number) => (
        <g key={'zt' + t}>
          <line x1={xz(t)} x2={xz(t)} y1={c.cbTop} y2={c.cbTop + 3} stroke="#fff" strokeWidth={1.6} />
          <line x1={xz(t)} x2={xz(t)} y1={c.cbTop + c.cbH - 3} y2={c.cbTop + c.cbH} stroke="#fff" strokeWidth={1.6} />
          <text x={xz(t)} y={c.cbLabelY} textAnchor="middle" fontSize={17}>{d3.format('d')(t)}</text>
        </g>
      ))}
      <text x={c.zLabelRight} y={c.cbTop + c.cbH / 2} dy="0.35em" textAnchor="end" fontSize={17.5}>Z-score</text>
      <rect x={c.cbX0 + 1} y={c.lowY} width={15} height={14} fill={BAR_BLUE} />
      <text x={c.legTextX} y={c.lowY + 13} fontSize={19}>Low</text>
      <rect x={c.cbX0 + 1} y={c.highY} width={15} height={14} fill={BAR_RED} />
      <text x={c.legTextX} y={c.highY + 13} fontSize={19}>High</text>
      <text x={c.panelX} y={c.panelY} textAnchor="middle" fontSize={19}>{c.panel}</text>
    </g>
  )
}

const volcanoA = {
  id: 'va', left: 95, right: 350, top: 161, bottom: 424, xDomain: [-7.4, 7.4], yDomain: [-0.5, 10.46],
  xTicks: [-4, 0, 4], xMinor: [-6, -2, 2, 6], yTicks: [0, 2.5, 5, 7.5, 10], yMinor: [1.25, 3.75, 6.25, 8.75],
  xFmt: 'd', yFmt: '.1f', vlines: [-0.5, 0.5], hline: 1.301, title: 'IncRNA', xTitleY: 487, yTitleX: 20,
  yPrefix: '−Log', ySuffix: '.adj)', panel: '(a)', panelX: 176, panelY: 563, down: lncDown, up: lncUp, ns: lncNs,
}
const volcanoC = {
  id: 'vc', left: 90.7, right: 349, top: 739.3, bottom: 996, xDomain: [-2.38, 2.34], yDomain: [-0.105, 2.5],
  xTicks: [-2, -1, 0, 1, 2], xMinor: [-1.5, -0.5, 0.5, 1.5], yTicks: [0, 0.5, 1, 1.5, 2, 2.5],
  yMinor: [0.25, 0.75, 1.25, 1.75, 2.25], xFmt: 'd', yFmt: '.1f', vlines: [-1, 1], hline: 1.301, title: 'miRNA',
  xTitleY: 1058, yTitleX: 28, yPrefix: '−log', ySuffix: '. value)', panel: '(c)', panelX: 176, panelY: 1120,
  down: mirDown, up: mirUp, ns: mirNs,
}
const volcanoE = {
  id: 've', left: 80, right: 350, top: 1284.3, bottom: 1548.3, xDomain: [-9.5, 9.5], yDomain: [-1.0, 18.88],
  xTicks: [-5, 0, 5], xMinor: [-7.5, -2.5, 2.5, 7.5], yTicks: [0, 5, 10, 15], yMinor: [2.5, 7.5, 12.5, 17.5],
  xFmt: 'd', yFmt: 'd', vlines: [-1, 1], hline: 1.3, title: 'mRNA', xTitleY: 1611.7, yTitleX: 17, yPrefix: '−Log',
  ySuffix: '.adj)', panel: '(e)', panelX: 176, panelY: 1700, down: mrnaDown, up: mrnaUp, ns: mrnaNs,
}

const heatB = {
  id: 'hb', genes: lncGenes, z: lncZ, stars: lncStars, x0: 476.5, x1: 833.9, zeroY: 141.7, sixY: 37.3, barBase: -0.2,
  axisX: 473.7, title: 'IncRNA', titleX: 655.5, titleY: 22, lab1X: 401, lab2X: 421.8, labY: 88, heatTop: 150,
  heatBottom: 418.7, labelRight: 467.8, starX: 857, starDy: 6, cbX0: 477, cbX1: 834, cbTop: 430, cbH: 15.7,
  zMin: -0.79, zMax: 5.1, zTicks: [0, 1, 2, 3, 4, 5], cbLabelY: 467, zLabelRight: 470, lowY: 483, highY: 513,
  legTextX: 500, panel: '(b)', panelX: 624, panelY: 563,
}
const heatD = {
  id: 'hd', genes: mirGenes, z: mirZ, stars: mirStars, x0: 478.9, x1: 846, zeroY: 697.3, sixY: 592.7, barBase: -0.34,
  axisX: 470.2, title: 'miRNA', titleX: 655.5, titleY: 613.3, lab1X: 395, lab2X: 417.3, labY: 646.7, heatTop: 709.3,
  heatBottom: 978.3, labelRight: 462.3, starX: 862, starDy: 7, cbX0: 478.9, cbX1: 841.8, cbTop: 986.7, cbH: 16,
  zMin: -1.525, zMax: 3.96, zTicks: [-1, 0, 1, 2, 3], cbLabelY: 1020, zLabelRight: 462.3, lowY: 1041, highY: 1069.3,
  legTextX: 500.7, panel: '(d)', panelX: 626, panelY: 1120,
}
const heatF = {
  id: 'hf', genes: mrnaGenes, z: mrnaZ, stars: mrnaStars, x0: 464.4, x1: 833.8, zeroY: 1263.3, sixY: 1159, barBase: -0.29,
  axisX: 461.6, title: 'mRNA', titleX: 662.4, titleY: 1156.7, lab1X: 387.1, lab2X: 409, labY: 1210, heatTop: 1274,
  heatBottom: 1545, labelRight: 455.4, starX: 855, starDy: 6, cbX0: 464.4, cbX1: 833.8, cbTop: 1566, cbH: 15.7,
  zMin: -1.52, zMax: 3.95, zTicks: [-1, 0, 1, 2, 3, 4], cbLabelY: 1602, zLabelRight: 459.9, lowY: 1621, highY: 1651.7,
  legTextX: 486.5, panel: '(f)', panelX: 623.6, panelY: 1702,
}

export default function App() {
  return (
    <div style={{ position: 'absolute', left: 0, top: 0, background: '#fff' }}>
      <svg width={873} height={1708} viewBox="0 0 873 1708" style={{ display: 'block' }}>
        <rect width={873} height={1708} fill="#fff" />
        <Volcano c={volcanoA} />
        <Volcano c={volcanoC} />
        <Volcano c={volcanoE} />
        <ExprHeatmap c={heatB} />
        <ExprHeatmap c={heatD} />
        <ExprHeatmap c={heatF} />
      </svg>
    </div>
  )
}
